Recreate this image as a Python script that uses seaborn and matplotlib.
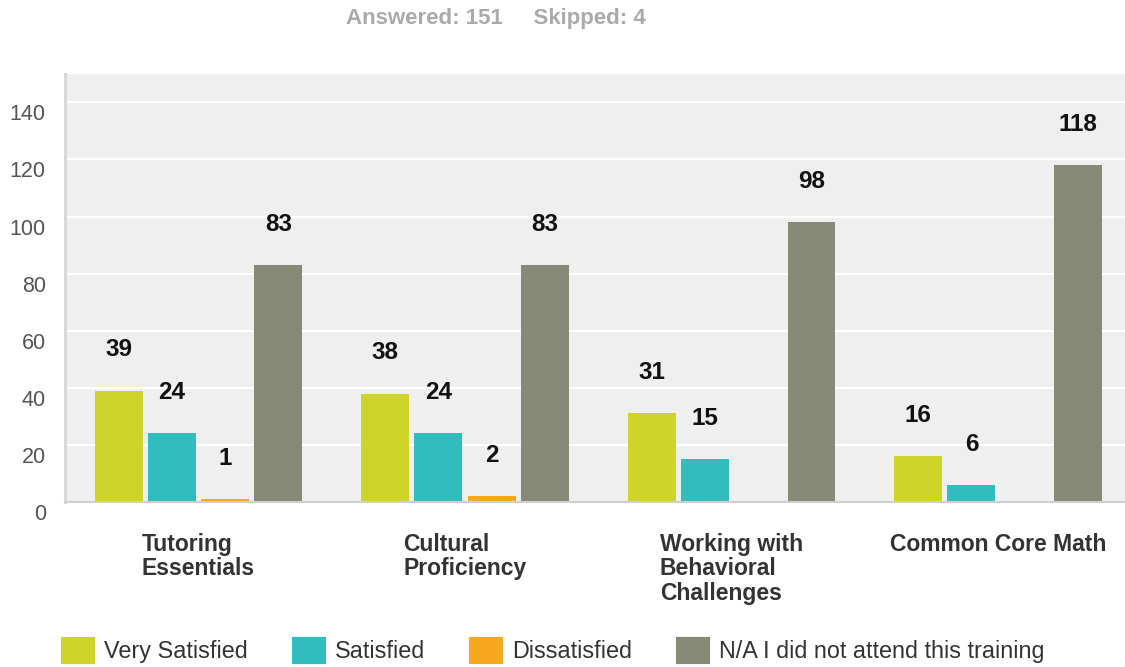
import pandas as pd
import matplotlib.pyplot as plt
import matplotlib.transforms as mtransforms
from matplotlib.patches import Patch
import seaborn as sns

# --------------------------------------------------
# data
# --------------------------------------------------

trainings = ["Tutoring\nEssentials", "Cultural\nProficiency",
             "Working with\nBehavioral\nChallenges", "Common Core Math"]
responses = ["Very Satisfied", "Satisfied", "Dissatisfied",
             "N/A I did not attend this training"]
very_satisfied = [39, 38, 31, 16]
satisfied = [24, 24, 15, 6]
dissatisfied = [1, 2, 0, 0]
not_attended = [83, 83, 98, 118]
colors = ["#cfd428", "#31bdbd", "#f6a91e", "#878a77"]

df = pd.DataFrame({
    "Training": trainings * 4,
    "Response": [r for r in responses for _ in trainings],
    "Count": very_satisfied + satisfied + dissatisfied + not_attended,
})

# --------------------------------------------------
# plotting
# --------------------------------------------------

sns.set_style("white")
plt.rcParams["font.family"] = ["Liberation Sans", "DejaVu Sans"]

fig = plt.figure(figsize=(11.25, 6.67), dpi=100)
ax = fig.add_axes([0.058, 0.2474, 0.95, 0.642])

sns.barplot(data=df, x="Training", y="Count", hue="Response",
            order=trainings, hue_order=responses, palette=colors,
            saturation=1, width=0.8, gap=0.1, linewidth=0, ax=ax, legend=False)

for cont in ax.containers:
    labels = [f"{v:.0f}" if v > 0 else "" for v in cont.datavalues]
    ax.bar_label(cont, labels=labels, padding=21, fontsize=17.5,
                 fontweight="bold", color="#111111")

ax.set_facecolor("#efefef")
ax.set_ylim(0, 150)
ax.set_xlim(-0.5, 3.51)
ax.set_yticks(range(0, 141, 20))
ax.yaxis.grid(True, color="white", linewidth=1.6)
ax.set_axisbelow(True)
ax.set_xlabel("")
ax.set_ylabel("")

for s in ["top", "right"]:
    ax.spines[s].set_visible(False)
ax.spines["left"].set_color("#d8d8d8")
ax.spines["left"].set_linewidth(2.2)
ax.spines["bottom"].set_color("#cfcfcf")
ax.spines["bottom"].set_linewidth(1.5)

ax.tick_params(axis="y", length=0, pad=14, labelsize=15.5, labelcolor="#555555")
ax.tick_params(axis="x", length=0, pad=22)
offset = mtransforms.ScaledTranslation(0, -10 / 100, fig.dpi_scale_trans)
for lab in ax.get_yticklabels():
    lab.set_transform(lab.get_transform() + offset)
for lab in ax.get_xticklabels():
    lab.set_fontsize(16.5)
    lab.set_fontweight("bold")
    lab.set_color("#333333")
    lab.set_multialignment("left")
    lab.set_linespacing(1.1)

fig.text(0.441, 0.972, "Answered: 151     Skipped: 4", ha="center", va="center",
         fontsize=16, fontweight="bold", color="#aaaaaa")

handles = [Patch(facecolor=c, edgecolor=c, linewidth=3, joinstyle="round")
           for c in colors]
fig.legend(handles, responses, loc="center", bbox_to_anchor=(0.492, 0.024),
           ncol=4, frameon=False, fontsize=16.8, labelcolor="#333333",
           handlelength=1.3, handleheight=1.2, handletextpad=0.45,
           columnspacing=1.98)

plt.savefig("out.png", dpi=100)
